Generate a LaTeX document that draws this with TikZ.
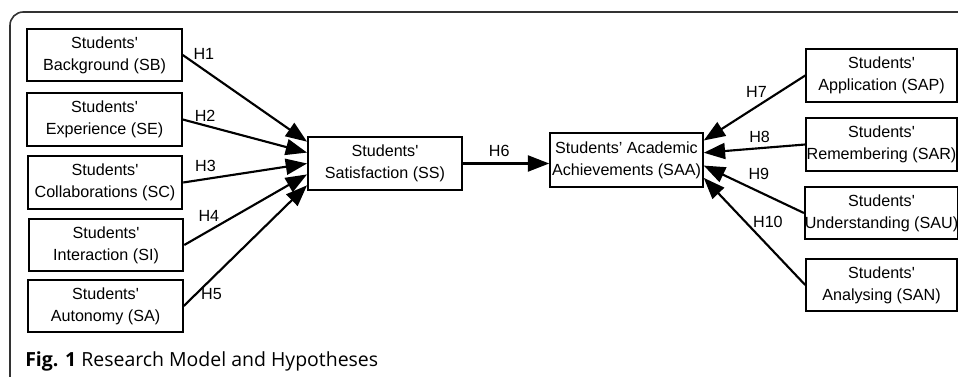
\documentclass[tikz,border=0pt]{standalone}
\usepackage{fontspec}
\setmainfont{Liberation Sans}
\newfontfamily\capfont{Open Sans}
\usetikzlibrary{arrows.meta,calc}
\newcommand\apos{\textquotesingle}

\begin{document}
\begin{tikzpicture}[x=0.75pt,y=-0.75pt,
  box/.style={draw,line width=1.4pt,align=center,inner sep=0pt,
    minimum height=39.5pt,font=\fontsize{12.1}{16.5}\selectfont},
  hyp/.style={line width=1.6pt,-{Triangle[length=16pt,width=12pt]}},
  lab/.style={font=\fontsize{12.1}{14}\selectfont,inner sep=1pt}]
\useasboundingbox (0,0) rectangle (958,377);
\draw[line width=1.2pt,black!80,rounded corners=10pt] (10,377) -- (10,12) -- (958,12);

\node[box,minimum width=116pt] (sb) at (104.5,55) {Students\apos\\Background (SB)};
\node[box,minimum width=116pt] (se) at (104.5,119.5) {Students\apos\\Experience (SE)};
\node[box,minimum width=116pt] (sc) at (105,182.5) {Students\apos\\Collaborations (SC)};
\node[box,minimum width=116pt] (si) at (106,245) {Students\apos\\Interaction (SI)};
\node[box,minimum width=116pt] (sa) at (105.5,306) {Students\apos\\Autonomy (SA)};

\node[box,minimum width=115.5pt] (ss) at (385,163.5) {Students\apos\\Satisfaction (SS)};
\node[box,minimum width=114.5pt,minimum height=40.5pt] (saa) at (626.5,160) {Students' Academic\\Achievements (SAA)};

\node[box,minimum width=113pt] (sap) at (881.5,75.5) {Students\apos\\Application (SAP)};
\node[box,minimum width=113pt] (sar) at (881.5,144.5) {Students\apos\\Remembering (SAR)};
\node[box,minimum width=113pt] (sau) at (881.5,213) {Students\apos\\Understanding (SAU)};
\node[box,minimum width=113pt] (san) at (881.5,285) {Students\apos\\Analysing (SAN)};

\draw[hyp] (sb.east) -- node[lab,pos=0.17,above=6pt] {H1} ($(ss.north west)!0.1!(ss.south west)$);
\draw[hyp] (se.east) -- node[lab,pos=0.18,above=1pt] {H2} ($(ss.north west)!0.3!(ss.south west)$);
\draw[hyp] (sc.east) -- node[lab,pos=0.18,above=4pt] {H3} ($(ss.north west)!0.5!(ss.south west)$);
\draw[hyp] (si.east) -- node[lab,pos=0.2,above=5pt] {H4} ($(ss.north west)!0.7!(ss.south west)$);
\draw[hyp] (sa.east) -- node[lab,pos=0.1,right=2pt] {H5} ($(ss.north west)!0.9!(ss.south west)$);

\draw[hyp] (ss.east) -- node[lab,pos=0.42,above=3pt] {H6} (ss.east -| saa.west);

\draw[hyp] (sap.west) -- node[lab,pos=0.48,above=5pt] {H7} ($(saa.north east)!0.15!(saa.south east)$);
\draw[hyp] (sar.west) -- node[lab,pos=0.45,above=2pt] {H8} ($(saa.north east)!0.37!(saa.south east)$);
\draw[hyp] (sau.west) -- node[lab,pos=0.45,above=7pt] {H9} ($(saa.north east)!0.6!(saa.south east)$);
\draw[hyp] (san.west) -- node[lab,pos=0.59,right=4pt] {H10} ($(saa.north east)!0.82!(saa.south east)$);

\node[anchor=base west,inner sep=0pt,font=\capfont\fontsize{14.6}{17}\selectfont] (cap) at (25,367) {\textbf{Fig. 1} Research Model and Hypotheses};
\end{tikzpicture}
\end{document}
